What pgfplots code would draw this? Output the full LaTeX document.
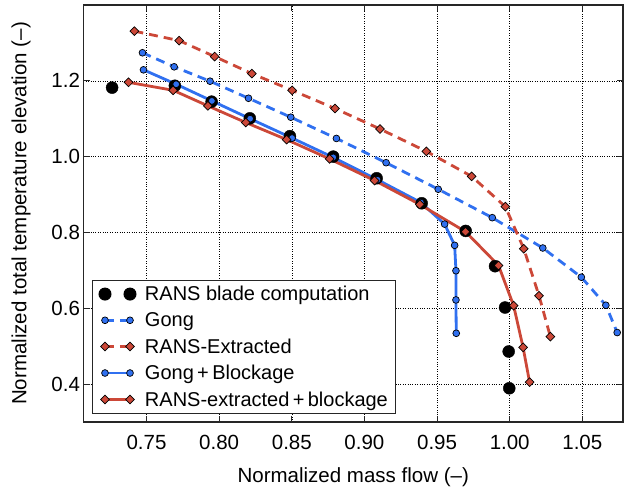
\documentclass[border=0pt]{standalone}
\usepackage{fontspec}
\setmainfont{Liberation Sans}
\usepackage{pgfplots}
\pgfplotsset{compat=1.18}

\definecolor{gblue}{RGB}{48,112,240}
\definecolor{rred}{RGB}{204,72,56}

\pgfplotsset{
  twomark/.style={legend image code/.code={%
    \draw[mark repeat=2,mark phase=1,##1] plot coordinates {(0pt,0pt) (12.5pt,0pt) (25pt,0pt)};}},
  circ/.style={mark=*, mark size=3.4pt, mark options={solid, fill=gblue, draw=black, line width=0.7pt}},
  diam/.style={mark=square*, mark size=3.1pt, mark options={solid, rotate=45, fill=rred, draw=black, line width=0.7pt}},
}

\begin{document}
\begin{tikzpicture}
\begin{axis}[
    width=539.5pt, height=417pt, scale only axis,
    xmin=0.7066, xmax=1.078, ymin=0.3, ymax=1.4,
    xtick={0.75,0.80,0.85,0.90,0.95,1.00,1.05},
    ytick={0.4,0.6,0.8,1.0,1.2},
    font=\fontsize{20.5}{24}\selectfont,
    /pgf/number format/assume math mode=true,
    xticklabel style={yshift=-10pt, /pgf/number format/.cd, fixed, fixed zerofill, precision=2},
    yticklabel style={/pgf/number format/.cd, fixed, fixed zerofill, precision=1},
    grid=major,
    major grid style={black, dotted, line width=0.6pt},
    tick align=inside, major tick length=6pt,
    tick style={black!85, line width=0.8pt},
    axis line style={black!85, line width=1.1pt},
    xlabel={Normalized mass flow (–)},
    ylabel={Normalized total temperature elevation (–)},
    xlabel shift=11pt, ylabel shift=14pt,
    legend cell align=left,
    legend style={at={(0,0)}, anchor=south west, xshift=9pt, yshift=8pt,
        draw=black!85, line width=1pt, fill=white,
        font=\fontsize{20}{24}\selectfont,
        row sep=6.5pt, column sep=7pt, inner xsep=6pt, inner ysep=4pt},
]

\addplot[only marks, mark=*, mark size=6pt, black, twomark] coordinates {
  (0.7263,1.182) (0.7695,1.187) (0.7948,1.145) (0.8211,1.101) (0.8487,1.054)
  (0.8785,1.000) (0.9084,0.943) (0.9394,0.877) (0.9697,0.804) (0.9899,0.711)
  (0.9968,0.602) (0.9993,0.486) (0.9997,0.389)
};
\addlegendentry{RANS blade computation}

\addplot[gblue, line width=2.8pt, dash pattern=on 9pt off 6pt, circ, twomark] coordinates {
  (0.7472,1.274) (0.7690,1.237) (0.7937,1.199) (0.8202,1.154) (0.8493,1.104)
  (0.8807,1.048) (0.9149,0.984) (0.9508,0.914) (0.9880,0.839) (1.0228,0.759)
  (1.0493,0.682) (1.0662,0.608) (1.0740,0.536)
};
\addlegendentry{Gong}

\addplot[rred, line width=2.8pt, dash pattern=on 9pt off 6pt, diam, twomark] coordinates {
  (0.7416,1.331) (0.7725,1.306) (0.7969,1.264) (0.8225,1.219) (0.8502,1.175)
  (0.8797,1.127) (0.9107,1.073) (0.9426,1.014) (0.9738,0.948) (0.9970,0.868)
  (1.0097,0.757) (1.0202,0.633) (1.0280,0.525)
};
\addlegendentry{RANS-Extracted}

\addplot[gblue, line width=2.8pt, circ, twomark] coordinates {
  (0.7479,1.229) (0.7704,1.191) (0.7950,1.147) (0.8213,1.100) (0.8502,1.049)
  (0.8785,0.998) (0.9090,0.939) (0.9388,0.879) (0.9552,0.822) (0.9621,0.766)
  (0.9630,0.699) (0.9630,0.622) (0.9632,0.534)
};
\addlegendentry{Gong\,+\,Blockage}

\addplot[rred, line width=2.8pt, diam, twomark] coordinates {
  (0.7376,1.196) (0.7683,1.175) (0.7922,1.134) (0.8183,1.090) (0.8464,1.045)
  (0.8760,0.994) (0.9070,0.937) (0.9381,0.874) (0.9696,0.802) (0.9923,0.713)
  (1.0027,0.607) (1.0092,0.497) (1.0137,0.405)
};
\addlegendentry{RANS-extracted\,+\,blockage}

\end{axis}
\pgfresetboundingbox
\path[use as bounding box] ([xshift=-83.5pt,yshift=-68pt]current axis.south west)
  rectangle ([xshift=2pt,yshift=5pt]current axis.north east);
\end{tikzpicture}
\end{document}
